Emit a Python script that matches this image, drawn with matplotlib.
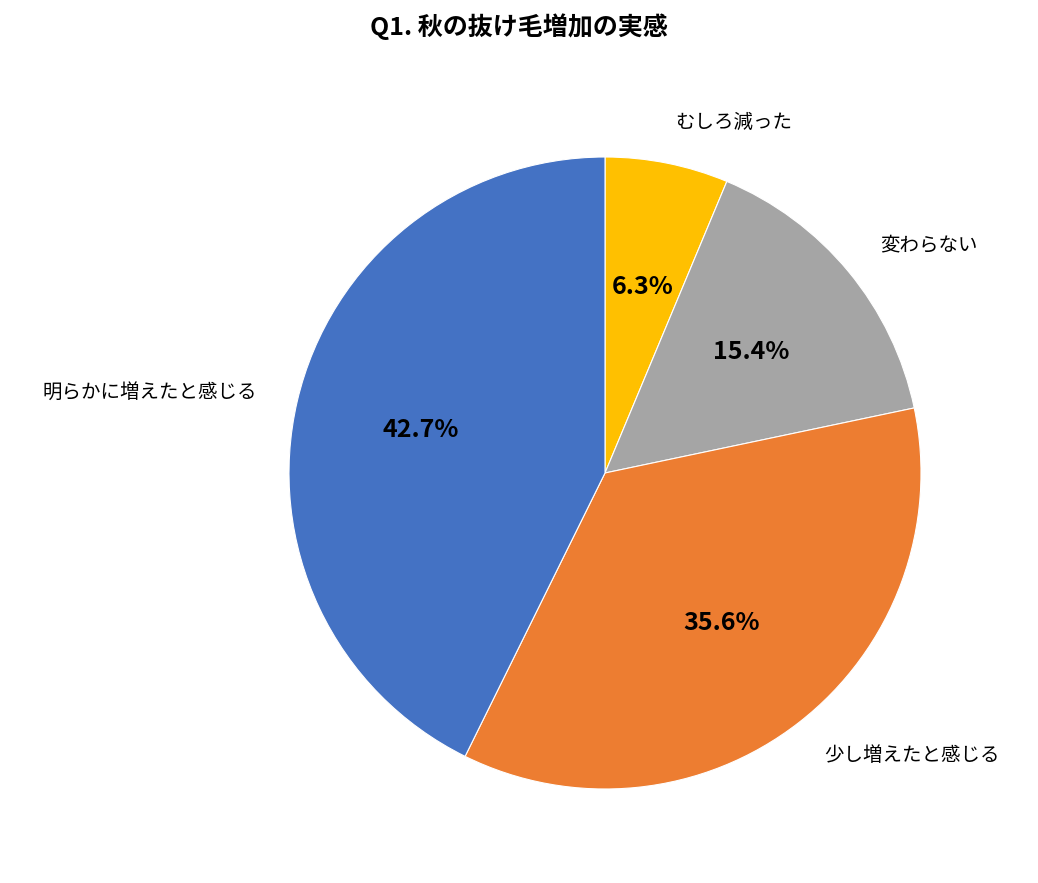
import matplotlib
matplotlib.use("Agg")
import matplotlib.pyplot as plt

plt.rcParams['font.family'] = ['Noto Sans CJK JP', 'DejaVu Sans']

categories = ["むしろ減った", "変わらない", "少し増えたと感じる", "明らかに増えたと感じる"]
values = [6.3, 15.4, 35.6, 42.7]
colors = ["#FFC000", "#A5A5A5", "#ED7D31", "#4472C4"]

fig = plt.figure(figsize=(10.38, 8.83), dpi=100)
ax = fig.add_axes([(605-316)/1038, 1-(473+316)/883, 632/1038, 632/883])
wedges, texts, autotexts = ax.pie(values, labels=categories, colors=colors, startangle=90,
                                  counterclock=False, autopct='%1.1f%%', pctdistance=0.6,
                                  labeldistance=1.13,
                                  wedgeprops=dict(linewidth=0.8, edgecolor='white'),
                                  textprops=dict(fontsize=14))
for t in autotexts:
    t.set_fontsize(18)
    t.set_fontweight('bold')
ax.set_xlim(-1, 1)
ax.set_ylim(-1, 1)
ax.set_aspect('equal')
fig.suptitle("Q1. 秋の抜け毛増加の実感", fontsize=18, fontweight='bold', y=0.985)
fig.savefig("out.png", dpi=100)
